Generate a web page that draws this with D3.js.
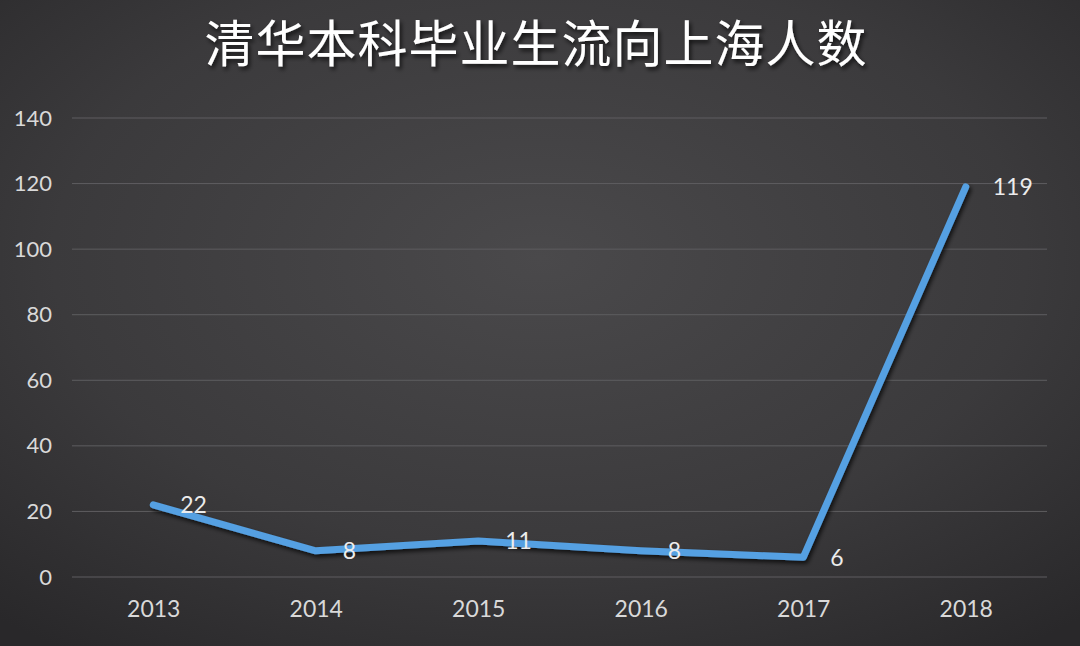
<!DOCTYPE html>
<html lang="zh">
<head>
<meta charset="UTF-8">
<title>清华本科毕业生流向上海人数</title>
<script src="https://d3js.org/d3.v7.min.js"></script>
<style>
  html, body { margin: 0; padding: 0; background: #333; }
  svg { display: block; }
</style>
</head>
<body>
<script>
  // data
  const years = ['2013', '2014', '2015', '2016', '2017', '2018'];
  const counts = [22, 8, 11, 8, 6, 119];
  const yTicks = [0, 20, 40, 60, 80, 100, 120, 140];
  const title = '清华本科毕业生流向上海人数';

  const W = 1080, H = 646;
  const margin = { top: 118, right: 33, bottom: 69, left: 72 };

  const svg = d3.select('body').append('svg')
      .attr('width', W)
      .attr('height', H);

  // background gradient
  const defs = svg.append('defs');
  const bg = defs.append('radialGradient')
      .attr('id', 'bg')
      .attr('cx', '50%').attr('cy', '40%').attr('r', '75%');
  bg.append('stop').attr('offset', '0%').attr('stop-color', '#4a494b');
  bg.append('stop').attr('offset', '60%').attr('stop-color', '#3b3a3c');
  bg.append('stop').attr('offset', '100%').attr('stop-color', '#29282a');

  const shadow = defs.append('filter').attr('id', 'shadow')
      .attr('x', '-10%').attr('y', '-10%').attr('width', '120%').attr('height', '120%');
  shadow.append('feDropShadow')
      .attr('dx', 2).attr('dy', 3).attr('stdDeviation', 2)
      .attr('flood-color', '#000').attr('flood-opacity', 0.7);

  svg.append('rect')
      .attr('width', W).attr('height', H)
      .attr('fill', 'url(#bg)');

  const x = d3.scalePoint()
      .domain(years)
      .range([margin.left, W - margin.right])
      .padding(0.5);

  const y = d3.scaleLinear()
      .domain([0, 140])
      .range([H - margin.bottom, margin.top]);

  // gridlines
  svg.append('g')
    .selectAll('line')
    .data(yTicks)
    .join('line')
      .attr('x1', margin.left)
      .attr('x2', W - margin.right)
      .attr('y1', d => y(d))
      .attr('y2', d => y(d))
      .attr('stroke', '#5e5d60')
      .attr('stroke-width', 1);

  const labelFont = 'Lato, "Open Sans", sans-serif';

  // y axis
  const yAxis = svg.append('g')
      .attr('transform', `translate(${margin.left - 20},0)`)
      .call(d3.axisLeft(y).tickValues(yTicks).tickSize(0).tickPadding(0));
  yAxis.select('.domain').remove();
  yAxis.selectAll('text')
      .attr('fill', '#d9d9d9')
      .style('font-family', labelFont)
      .style('font-size', '22px');

  // x axis
  const xAxis = svg.append('g')
      .attr('transform', `translate(0,${H - margin.bottom + 24})`)
      .call(d3.axisBottom(x).tickSize(0).tickPadding(0));
  xAxis.select('.domain').remove();
  xAxis.selectAll('text')
      .attr('fill', '#d9d9d9')
      .style('font-family', labelFont)
      .style('font-size', '23px');

  // line
  const line = d3.line()
      .x((d, i) => x(years[i]))
      .y(d => y(d));

  svg.append('path')
      .datum(counts)
      .attr('d', line)
      .attr('fill', 'none')
      .attr('stroke', '#55a0e2')
      .attr('stroke-width', 7)
      .attr('stroke-linejoin', 'round')
      .attr('stroke-linecap', 'round')
      .attr('filter', 'url(#shadow)');

  // data labels
  svg.append('g')
    .selectAll('text')
    .data(counts)
    .join('text')
      .attr('x', (d, i) => x(years[i]) + 27)
      .attr('y', d => y(d))
      .attr('dy', '0.36em')
      .attr('fill', '#ececec')
      .style('font-family', labelFont)
      .style('font-size', '23px')
      .text(d => d);

  // title
  svg.append('text')
      .attr('x', 536)
      .attr('y', 62)
      .attr('text-anchor', 'middle')
      .attr('fill', '#ffffff')
      .attr('filter', 'url(#shadow)')
      .style('font-family', '"Noto Sans CJK SC", sans-serif')
      .style('font-size', '50px')
      .style('letter-spacing', '1px')
      .text(title);
</script>
</body>
</html>
